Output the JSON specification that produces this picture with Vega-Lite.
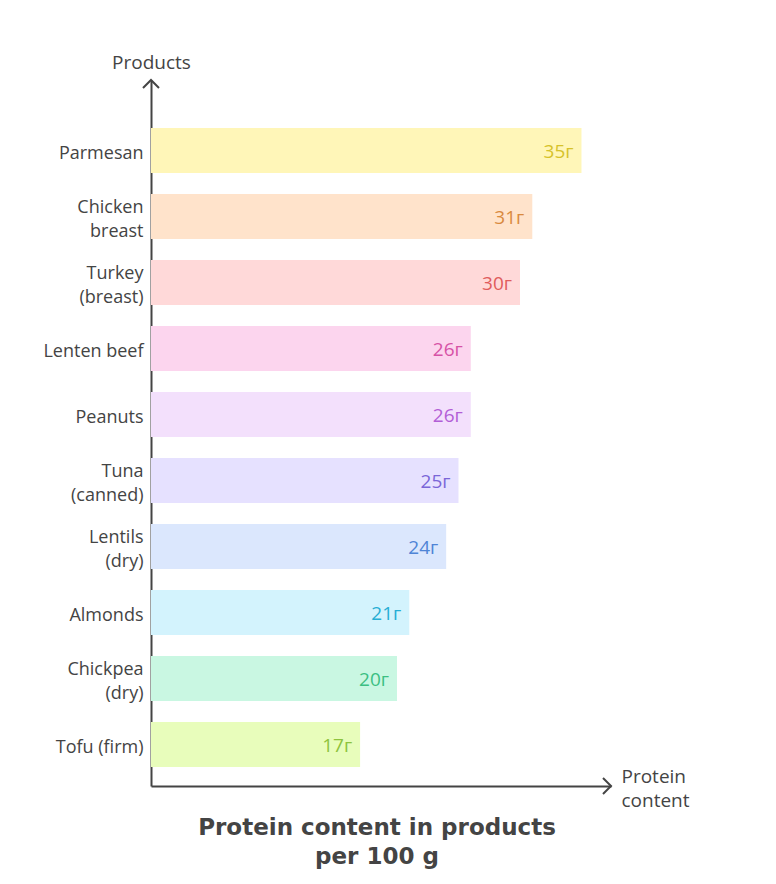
{
  "$schema": "https://vega.github.io/schema/vega-lite/v6.json",
  "width": 460,
  "height": 706,
  "autosize": {"type": "none"},
  "padding": {"left": 151, "top": 80, "right": 165, "bottom": 98},
  "background": "white",
  "config": {
    "view": {"stroke": null},
    "font": "Open Sans",
    "scale": {"bandPaddingInner": 0.318, "bandPaddingOuter": 0.5076}
  },
  "title": {
    "text": ["Protein content in products", "per 100 g"],
    "orient": "bottom",
    "anchor": "middle",
    "font": "DejaVu Sans",
    "fontSize": 23,
    "fontWeight": "bold",
    "color": "#444444",
    "lineHeight": 29,
    "offset": 7,
    "dx": -4
  },
  "datasets": {
    "protein": [
      {"product": "Parmesan", "protein": 35, "label": "35г"},
      {"product": "Chicken|breast", "protein": 31, "label": "31г"},
      {"product": "Turkey|(breast)", "protein": 30, "label": "30г"},
      {"product": "Lenten beef", "protein": 26, "label": "26г"},
      {"product": "Peanuts", "protein": 26, "label": "26г"},
      {"product": "Tuna|(canned)", "protein": 25, "label": "25г"},
      {"product": "Lentils|(dry)", "protein": 24, "label": "24г"},
      {"product": "Almonds", "protein": 21, "label": "21г"},
      {"product": "Chickpea|(dry)", "protein": 20, "label": "20г"},
      {"product": "Tofu (firm)", "protein": 17, "label": "17г"}
    ],
    "arrows": [
      {"axis": "x", "px": 37.4, "py": 0},
      {"axis": "y", "px": 0, "py": 1}
    ]
  },
  "layer": [
    {
      "data": {"name": "protein"},
      "mark": {"type": "bar", "cornerRadius": 0},
      "encoding": {
        "y": {
          "field": "product", "type": "nominal", "sort": null,
          "scale": {"type": "band", "align": 0.716, "paddingInner": 0.318, "paddingOuter": 0.5076},
          "axis": {
            "title": "Products",
            "titleAngle": 0,
            "titleX": 0,
            "titleY": -12,
            "titleAlign": "center",
            "titleBaseline": "alphabetic",
            "titleFontSize": 19,
            "titleFontWeight": "normal",
            "titleColor": "#444444",
            "titleFont": "Open Sans",
            "labelExpr": "split(datum.value, '|')",
            "labelFontSize": 18,
            "labelColor": "#444444",
            "labelLineHeight": 24,
            "labelPadding": 8,
            "labelFont": "Open Sans",
            "labelOffset": {"condition": {"test": "indexof(datum.value, '|') >= 0", "value": -8}, "value": 4},
            "ticks": false,
            "domainColor": "#444444",
            "domainWidth": 2,
            "grid": false
          }
        },
        "x": {
          "field": "protein", "type": "quantitative",
          "scale": {"domain": [0, 37.4], "nice": false},
          "axis": {
            "title": ["Protein", "content"],
            "titleX": 470,
            "titleY": -4,
            "titleAlign": "left",
            "titleBaseline": "alphabetic",
            "titleAngle": 0,
            "titleFontSize": 19,
            "titleFontWeight": "normal",
            "titleColor": "#444444",
            "titleFont": "Open Sans",
            "titleLineHeight": 24,
            "labels": false,
            "ticks": false,
            "grid": false,
            "domainColor": "#444444",
            "domainWidth": 2
          }
        },
        "color": {
          "field": "product", "type": "nominal", "legend": null,
          "scale": {
            "domain": ["Parmesan", "Chicken|breast", "Turkey|(breast)", "Lenten beef", "Peanuts", "Tuna|(canned)", "Lentils|(dry)", "Almonds", "Chickpea|(dry)", "Tofu (firm)"],
            "range": ["#fff6b8", "#ffe3cb", "#ffd9d9", "#fcd5ee", "#f3e0fc", "#e6e1ff", "#dbe7fd", "#d3f3fd", "#c9f7e2", "#e8fdbb"]
          }
        }
      }
    },
    {
      "data": {"name": "protein"},
      "mark": {"type": "text", "align": "right", "baseline": "middle", "dx": -8, "dy": 2, "fontSize": 19, "font": "Open Sans"},
      "encoding": {
        "y": {"field": "product", "type": "nominal", "sort": null, "scale": {"type": "band", "align": 0.716, "paddingInner": 0.318, "paddingOuter": 0.5076}, "axis": null},
        "x": {"field": "protein", "type": "quantitative", "scale": {"domain": [0, 37.4], "nice": false}},
        "text": {"field": "label"},
        "color": {
          "field": "product", "type": "nominal", "legend": null,
          "scale": {
            "domain": ["Parmesan", "Chicken|breast", "Turkey|(breast)", "Lenten beef", "Peanuts", "Tuna|(canned)", "Lentils|(dry)", "Almonds", "Chickpea|(dry)", "Tofu (firm)"],
            "range": ["#d6c22a", "#d98a3e", "#e05c5c", "#d652a6", "#b25ed6", "#7a66d8", "#4f84d6", "#27aed4", "#3cbf82", "#8dc33d"]
          }
        }
      }
    },
    {
      "data": {"name": "arrows"},
      "transform": [{"filter": "datum.axis == 'x'"}],
      "mark": {"type": "point", "shape": "M-1,-1L0,0L-1,1", "filled": false, "stroke": "#444444", "strokeWidth": 2, "size": 256, "opacity": 1},
      "encoding": {
        "x": {"field": "px", "type": "quantitative", "scale": {"domain": [0, 37.4], "nice": false}},
        "y": {"field": "py", "type": "quantitative", "scale": {"domain": [0, 1], "nice": false}, "axis": null}
      }
    },
    {
      "data": {"name": "arrows"},
      "transform": [{"filter": "datum.axis == 'y'"}],
      "mark": {"type": "point", "shape": "M-1,1L0,0L1,1", "filled": false, "stroke": "#444444", "strokeWidth": 2, "size": 256, "opacity": 1},
      "encoding": {
        "x": {"field": "px", "type": "quantitative", "scale": {"domain": [0, 37.4], "nice": false}},
        "y": {"field": "py", "type": "quantitative", "scale": {"domain": [0, 1], "nice": false}, "axis": null}
      }
    }
  ],
  "resolve": {"scale": {"y": "independent", "color": "independent"}}
}
